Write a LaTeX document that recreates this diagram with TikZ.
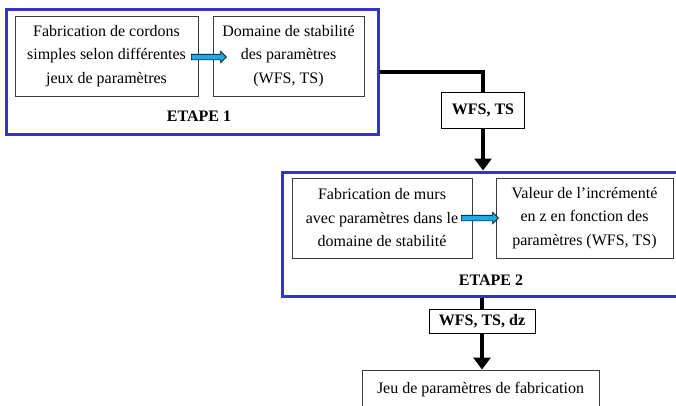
\documentclass[tikz,border=0pt]{standalone}
\usepackage{fontspec}
\setmainfont{Liberation Serif}
\usetikzlibrary{arrows.meta,shapes.arrows}
\definecolor{etapeblue}{RGB}{51,51,204}
\definecolor{flechecyan}{RGB}{28,169,230}
\definecolor{boxgray}{RGB}{60,60,60}
\begin{document}
\begin{tikzpicture}[x=1pt,y=-1pt,
        every node/.style={font=\fontsize{16}{23.5}\selectfont,inner sep=0pt},
        etape/.style={draw=etapeblue,line width=3pt},
        tache/.style={draw=boxgray,line width=0.9pt,align=center,minimum height=80pt},
        param/.style={draw=black,line width=0.9pt,fill=white,font=\fontsize{16}{20}\selectfont\bfseries},
        fleche/.style={single arrow,draw=black,line width=0.6pt,fill=flechecyan,
            minimum width=11pt,single arrow head extend=3pt,inner sep=2.5pt},
        flux/.style={line width=4pt},
        fluxtip/.style={line width=4pt,-{Triangle[width=17pt,length=12pt]}}]
    \clip (0,0) rectangle (676,405);
    \fill[white] (0,0) rectangle (676,405);
    % etape 1
    \node[etape,minimum width=372pt,minimum height=125pt] (etape1) at (192,71.5) {};
    \node[tache,minimum width=183pt] (cordons) at (106.5,56)
        {Fabrication de cordons\\simples selon différentes\\jeux de paramètres};
    \node[tache,minimum width=151pt] (domaine) at (288.5,56)
        {Domaine de stabilité\\des paramètres\\(WFS, TS)};
    \node[fleche,minimum height=35pt] (f1) at (207.5,57) {};
    \node[font=\fontsize{16}{20}\selectfont\bfseries] (lab1) at (199,116) {ETAPE 1};
    % etape 2
    \node[etape,minimum width=418pt,minimum height=124pt] (etape2) at (491,234) {};
    \node[tache,minimum width=180pt] (murs) at (382,218)
        {Fabrication de murs\\avec paramètres dans le\\domaine de stabilité};
    \node[tache,minimum width=177pt] (increment) at (584.5,218)
        {Valeur de l’incrémenté\\en z en fonction des\\paramètres (WFS, TS)};
    \node[fleche,minimum height=37pt] (f2) at (478.5,218) {};
    \node[font=\fontsize{16}{20}\selectfont\bfseries] (lab2) at (491,280) {ETAPE 2};
    % liaisons
    \node[param,minimum width=83pt,minimum height=36pt] (p1) at (483,110) {WFS, TS};
    \node[param,minimum width=106pt,minimum height=24pt] (p2) at (482,321) {WFS, TS, dz};
    \node[draw=boxgray,line width=0.9pt,minimum width=237pt,minimum height=40pt] (jeu) at (480.5,390)
        {\raisebox{3pt}{Jeu de paramètres de fabrication}};
    \draw[flux] (etape1.east) -| (p1.north);
    \draw[fluxtip] (p1.south) -- (etape2.north -| p1.south);
    \draw[flux] (etape2.south -| p2.north) -- (p2.north);
    \draw[fluxtip] (p2.south) -- (jeu.north -| p2.south);
\end{tikzpicture}
\end{document}
